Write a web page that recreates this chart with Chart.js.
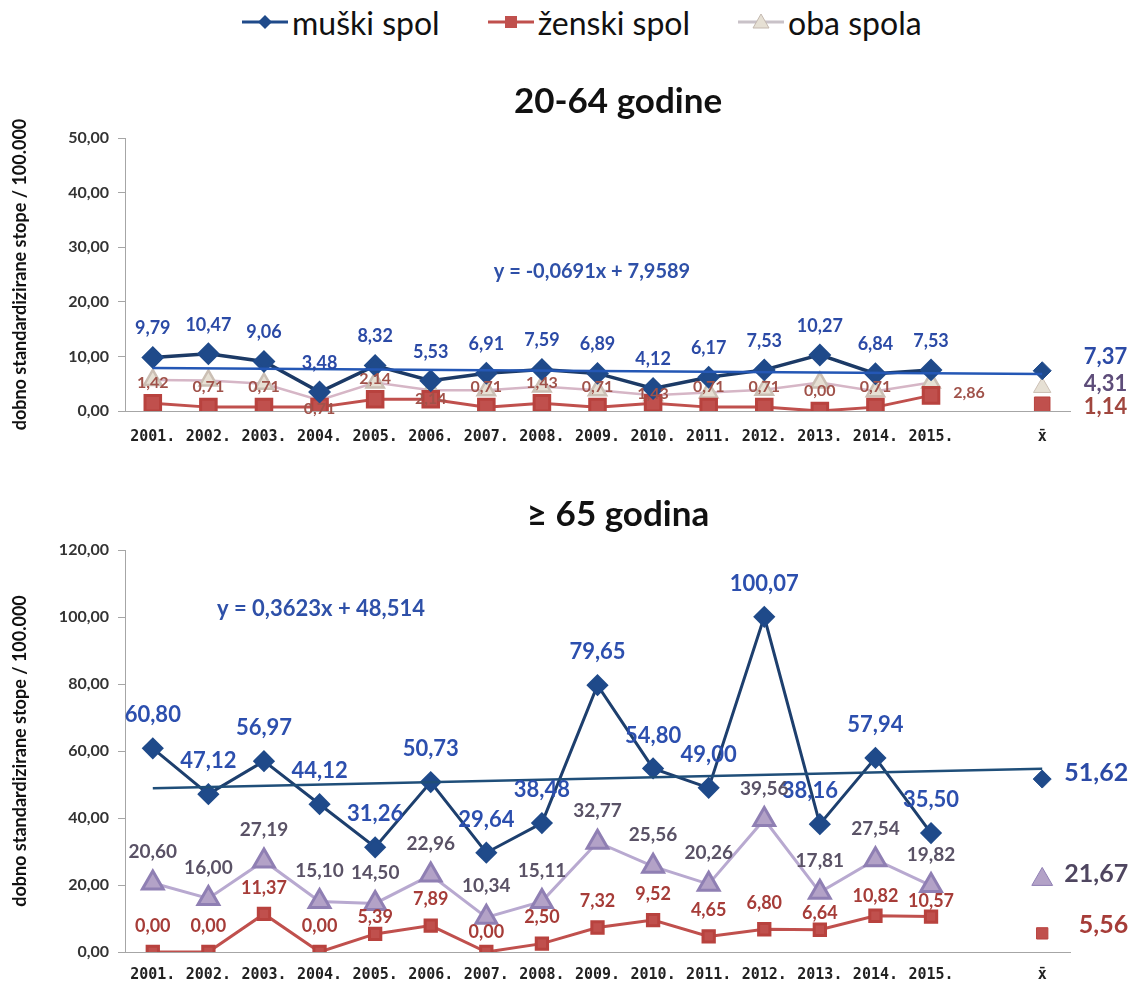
<!DOCTYPE html>
<html><head><meta charset="utf-8">
<script src="https://cdn.jsdelivr.net/npm/chart.js@4/dist/chart.umd.min.js"></script>
<style>
body{margin:0;width:1137px;height:990px;background:#fff;position:relative;overflow:hidden;font-family:Lato,sans-serif}
#legend{position:absolute;top:3px;left:240px;height:38px;display:flex;align-items:center;font-size:32px;color:#111}
.item{display:flex;align-items:center;margin-right:46px}
.item svg{margin-right:2px}
canvas{position:absolute;left:0}
#c1{top:60px}
#c2{top:470px}
</style></head><body>
<div id="legend">
  <div class="item"><svg width="50" height="20"><line x1="2" y1="10" x2="48" y2="10" stroke="#1f4a8a" stroke-width="3"/><polygon points="25,3 32,10 25,17 18,10" fill="#1f4a8a"/></svg><span>muški spol</span></div>
  <div class="item"><svg width="50" height="20"><line x1="2" y1="10" x2="48" y2="10" stroke="#c0504d" stroke-width="3"/><rect x="19" y="4" width="12" height="12" fill="#c0504d"/></svg><span>ženski spol</span></div>
  <div class="item"><svg width="50" height="20"><line x1="2" y1="10" x2="48" y2="10" stroke="#c9c2c8" stroke-width="3"/><polygon points="25,2 33,16 17,16" fill="#e6e0d4" stroke="#c4b9b0" stroke-width="1"/></svg><span>oba spola</span></div>
</div>
<canvas id="c1" width="1137" height="400"></canvas>
<canvas id="c2" width="1137" height="520"></canvas>
<script>
// ---- data ----
const years = ['2001.','2002.','2003.','2004.','2005.','2006.','2007.','2008.','2009.','2010.','2011.','2012.','2013.','2014.','2015.'];
const xLabels = years.concat(['', 'x\u0304']);

const topMale   = [9.79,10.47,9.06,3.48,8.32,5.53,6.91,7.59,6.89,4.12,6.17,7.53,10.27,6.84,7.53];
const topFemale = [1.42,0.71,0.71,0.71,2.14,2.14,0.71,1.43,0.71,1.43,0.71,0.71,0.00,0.71,2.86];
const topBoth   = [5.7,5.6,5.0,2.0,5.2,3.8,3.8,4.5,3.8,2.9,3.4,3.9,5.2,3.6,5.2];
const topMaleMean = 7.37, topFemaleMean = 1.14, topBothMean = 4.31;
const topTrend = [7.89, 6.78];

const botMale   = [60.80,47.12,56.97,44.12,31.26,50.73,29.64,38.48,79.65,54.80,49.00,100.07,38.16,57.94,35.50];
const botFemale = [0.00,0.00,11.37,0.00,5.39,7.89,0.00,2.50,7.32,9.52,4.65,6.80,6.64,10.82,10.57];
const botBoth   = [20.60,16.00,27.19,15.10,14.50,22.96,10.34,15.11,32.77,25.56,20.26,39.56,17.81,27.54,19.82];
const botMaleMean = 51.62, botFemaleMean = 5.56, botBothMean = 21.67;
const botTrend = [48.88, 54.67];

// ---- label placement (pixel offsets from point) ----
const topFemaleOffsets = {3:[0,2], 5:[0,0], 9:[0,-9], 14:[38,-3]};
const botMaleOffsets = {12:[-10,-33]};
const botFemaleOffsets = {4:[0,-17], 6:[0,-20], 12:[0,-17], 13:[0,-20], 14:[0,-15]};

// ---- helpers ----
const LAST = xLabels.length - 1;
const fmt = v => v.toFixed(2).replace('.', ',');
const padSeries = a => a.concat(xLabels.slice(a.length).map(() => null));
const meanSeries = v => xLabels.map((_, i) => i === LAST ? v : null);
const trendSeries = t => xLabels.map((_, i) => i === 0 ? t[0] : (i === LAST ? t[1] : null));

const pointLabels = {
  id: 'pointLabels',
  afterDatasetsDraw(chart) {
    const ctx = chart.ctx;
    chart.data.datasets.forEach((ds, i) => {
      if (!ds.lbl) return;
      const meta = chart.getDatasetMeta(i);
      meta.data.forEach((pt, j) => {
        const v = ds.data[j];
        if (v == null) return;
        const o = (ds.lbl.offsets && ds.lbl.offsets[j]) || [ds.lbl.dx || 0, ds.lbl.dy || 0];
        ctx.save();
        ctx.font = ds.lbl.font;
        ctx.fillStyle = ds.lbl.color;
        ctx.textAlign = ds.lbl.align || 'center';
        ctx.textBaseline = 'middle';
        ctx.fillText(fmt(v), pt.x + o[0], pt.y + o[1]);
        ctx.restore();
      });
    });
  }
};
const extraText = {
  id: 'extraText',
  afterDraw(chart, args, opts) {
    const ctx = chart.ctx;
    (opts.items || []).forEach(it => {
      ctx.save();
      ctx.font = it.font; ctx.fillStyle = it.color;
      ctx.textAlign = 'center'; ctx.textBaseline = 'middle';
      ctx.fillText(it.text, it.x, it.y);
      ctx.restore();
    });
  }
};

function makeChart(id, cfg) {
  return new Chart(document.getElementById(id), {
    type: 'line',
    data: { labels: xLabels, datasets: cfg.datasets },
    options: {
      responsive: false, animation: false,
      layout: { padding: { left: 0, right: 67, top: cfg.padTop, bottom: 0 } },
      plugins: { legend: { display: false }, tooltip: { enabled: false },
        extraText: { items: cfg.texts } },
      scales: {
        x: {
          offset: true,
          grid: { display: false, drawTicks: false, offset: true },
          border: { color: '#a6a6a6', width: 1 },
          ticks: { autoSkip: false, maxRotation: 0, padding: cfg.xPad, color: '#222',
                   font: { family: 'DejaVu Sans Mono', weight: 'bold', size: 15 } },
          afterFit: s => { s.height = cfg.xHeight; }
        },
        y: {
          min: 0, max: cfg.yMax,
          ticks: { stepSize: cfg.yStep, padding: 9, color: '#333',
                   font: { family: 'Lato', weight: 'bold', size: 16 },
                   callback: v => fmt(v) },
          grid: { drawOnChartArea: false, drawTicks: true, tickLength: 7, color: '#a6a6a6' },
          border: { color: '#a6a6a6', width: 1 },
          title: { display: true, text: 'dobno standardizirane stope / 100.000', color: '#111',
                   font: { family: 'Lato', weight: 'bold', size: 18 }, padding: { top: 9, bottom: 0 } },
          afterFit: s => { s.width = 125; }
        }
      }
    },
    plugins: [pointLabels, extraText]
  });
}

// ---- top chart: 20-64 ----
makeChart('c1', {
  padTop: 78, xPad: 17, xHeight: 49, yMax: 50, yStep: 10,
  texts: [
    { text: '20-64 godine', x: 618, y: 42, font: 'bold 35px Lato', color: '#111' },
    { text: 'y = -0,0691x + 7,9589', x: 592, y: 212, font: 'bold 20px Lato', color: '#2e50a8' }
  ],
  datasets: [
    { data: trendSeries(topTrend), spanGaps: true, borderColor: '#2457b5', borderWidth: 2.5, pointRadius: 0 },
    { data: padSeries(topMale), borderColor: '#1c3a66', borderWidth: 3.5, pointStyle: 'rectRot', pointRadius: 9,
      pointBackgroundColor: '#1f4a8a', pointBorderColor: '#1f4a8a',
      lbl: { font: 'bold 18px Lato', color: '#2b4aa6', dy: -29 } },
    { data: padSeries(topFemale), borderColor: '#c0504d', borderWidth: 3, pointStyle: 'rect', pointRadius: 11,
      pointBackgroundColor: '#c0504d', pointBorderColor: '#b8423e',
      lbl: { font: 'bold 16px Lato', color: '#a0524a', dy: -20, offsets: topFemaleOffsets } },
    { data: padSeries(topBoth), borderColor: '#d6b6c6', borderWidth: 2.5, pointStyle: 'triangle', pointRadius: 10,
      pointBackgroundColor: '#e6e0d4', pointBorderColor: '#cbbfb4' },
    { data: meanSeries(topMaleMean), showLine: false, pointStyle: 'rectRot', pointRadius: 9,
      pointBackgroundColor: '#1f4a8a', pointBorderColor: '#1f4a8a',
      lbl: { font: 'bold 22px Lato', color: '#2b4aa6', align: 'right', dx: 85, dy: -14 } },
    { data: meanSeries(topFemaleMean), showLine: false, pointStyle: 'rect', pointRadius: 11,
      pointBackgroundColor: '#c0504d', pointBorderColor: '#b8423e',
      lbl: { font: 'bold 22px Lato', color: '#a0463e', align: 'right', dx: 85, dy: 2 } },
    { data: meanSeries(topBothMean), showLine: false, pointStyle: 'triangle', pointRadius: 10,
      pointBackgroundColor: '#e6e0d4', pointBorderColor: '#cbbfb4',
      lbl: { font: 'bold 22px Lato', color: '#5e4d7a', align: 'right', dx: 85, dy: -4 } }
  ]
});

// ---- bottom chart: >= 65 ----
makeChart('c2', {
  padTop: 80, xPad: 14, xHeight: 38, yMax: 120, yStep: 20,
  texts: [
    { text: '\u2265 65 godina', x: 618, y: 45, font: 'bold 35px Lato', color: '#111' },
    { text: 'y = 0,3623x + 48,514', x: 321, y: 139, font: 'bold 22px Lato', color: '#2e50a8' }
  ],
  datasets: [
    { data: trendSeries(botTrend), spanGaps: true, borderColor: '#1f4e79', borderWidth: 2.5, pointRadius: 0 },
    { data: padSeries(botMale), borderColor: '#1d3f6e', borderWidth: 3, pointStyle: 'rectRot', pointRadius: 9,
      pointBackgroundColor: '#1f4a8a', pointBorderColor: '#1f4a8a',
      lbl: { font: 'bold 22px Lato', color: '#2c4fae', dy: -33, offsets: botMaleOffsets } },
    { data: padSeries(botFemale), borderColor: '#c0504d', borderWidth: 3, pointStyle: 'rect', pointRadius: 8,
      pointBackgroundColor: '#c0504d', pointBorderColor: '#b8423e',
      lbl: { font: 'bold 18px Lato', color: '#a63c38', dy: -26, offsets: botFemaleOffsets } },
    { data: padSeries(botBoth), borderColor: '#b8a9d0', borderWidth: 3, pointStyle: 'triangle', pointRadius: 12,
      pointBackgroundColor: '#b3a2c7', pointBorderColor: '#8f7fb3',
      lbl: { font: 'bold 19px Lato', color: '#5a5266', dy: -31 } },
    { data: meanSeries(botMaleMean), showLine: false, pointStyle: 'rectRot', pointRadius: 9,
      pointBackgroundColor: '#1f4a8a', pointBorderColor: '#1f4a8a',
      lbl: { font: 'bold 25px Lato', color: '#2b4aa6', align: 'right', dx: 86, dy: -6 } },
    { data: meanSeries(botFemaleMean), showLine: false, pointStyle: 'rect', pointRadius: 8,
      pointBackgroundColor: '#c0504d', pointBorderColor: '#b8423e',
      lbl: { font: 'bold 25px Lato', color: '#a63c38', align: 'right', dx: 86, dy: -8 } },
    { data: meanSeries(botBothMean), showLine: false, pointStyle: 'triangle', pointRadius: 12,
      pointBackgroundColor: '#b3a2c7', pointBorderColor: '#8f7fb3',
      lbl: { font: 'bold 25px Lato', color: '#4f4660', align: 'right', dx: 86, dy: -5 } }
  ]
});
</script>
</body></html>
